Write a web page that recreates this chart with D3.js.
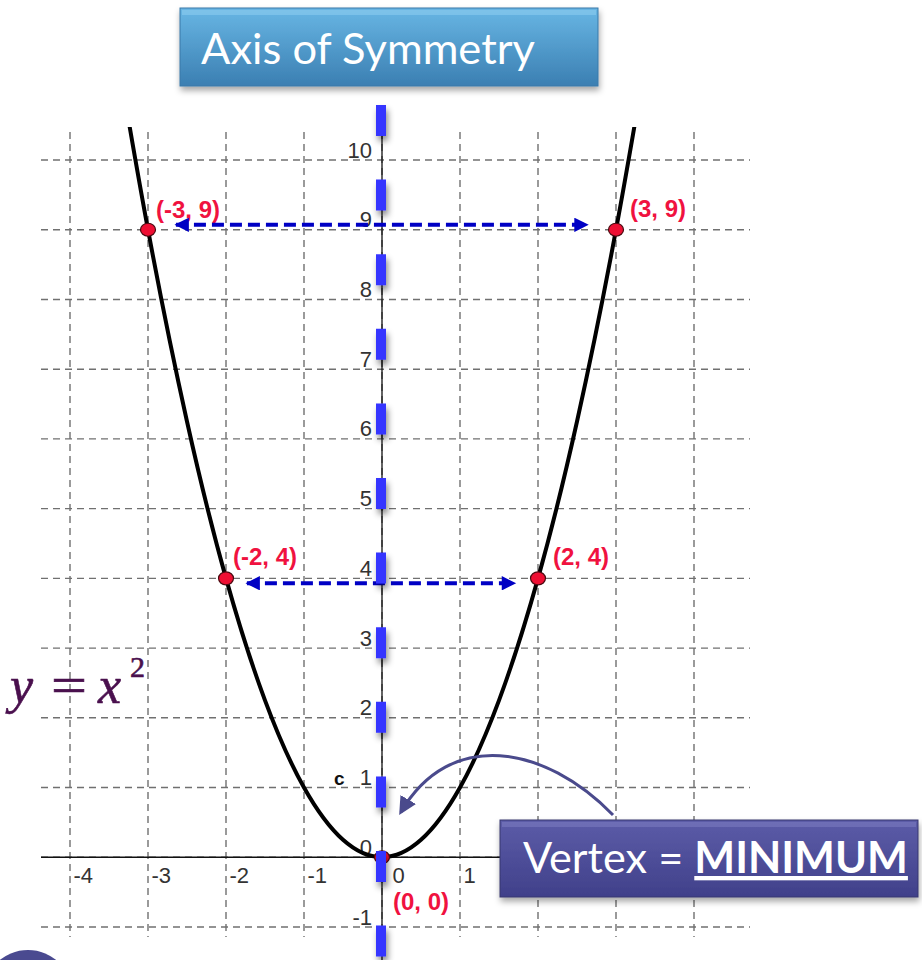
<!DOCTYPE html>
<html>
<head>
<meta charset="utf-8">
<script src="https://cdn.jsdelivr.net/npm/d3@7"></script>
<style>
  body { margin: 0; background: #fff; }
  svg { display: block; }
</style>
</head>
<body>
<svg id="chart" width="922" height="960"></svg>
<script>
(function () {
  "use strict";

  // data
  const xTicks = [-4, -3, -2, -1, 0, 1, 2, 3, 4];
  const xLabelTicks = [-4, -3, -2, -1, 0, 1]; // 2..4 sit behind the vertex box
  const yTicks = [-1, 0, 1, 2, 3, 4, 5, 6, 7, 8, 9, 10];
  const curveX = [-3.4, -3, -2.5, -2, -1.5, -1, -0.5, 0, 0.5, 1, 1.5, 2, 2.5, 3, 3.4];
  const curveY = [11.56, 9, 6.25, 4, 2.25, 1, 0.25, 0, 0.25, 1, 2.25, 4, 6.25, 9, 11.56];
  const pointX = [-3, 3, -2, 2, 0];
  const pointY = [9, 9, 4, 4, 0];
  const pointLabels = ["(-3, 9)", "(3, 9)", "(-2, 4)", "(2, 4)", "(0, 0)"];
  // symmetric arrows: [x start, x end, y]
  const arrowX0 = [-2.77, -1.86];
  const arrowX1 = [2.76, 1.83];
  const arrowY  = [9.07, 3.93];

  const FONT = "Liberation Sans, Arial, sans-serif";
  const svg = d3.select("#chart");
  const defs = svg.append("defs");

  const x = d3.scaleLinear().domain([-4, 4]).range([70, 694]);
  const y = d3.scaleLinear().domain([-1, 10]).range([927, 160]);

  // gradients + shadows
  const g1 = defs.append("linearGradient").attr("id", "titleGrad").attr("x1", 0).attr("y1", 0).attr("x2", 0).attr("y2", 1);
  g1.append("stop").attr("offset", "0%").attr("stop-color", "#68b6e4");
  g1.append("stop").attr("offset", "100%").attr("stop-color", "#3b7fb2");
  const g2 = defs.append("linearGradient").attr("id", "vertGrad").attr("x1", 0).attr("y1", 0).attr("x2", 0).attr("y2", 1);
  g2.append("stop").attr("offset", "0%").attr("stop-color", "#5c5ca8");
  g2.append("stop").attr("offset", "100%").attr("stop-color", "#40408a");

  const sh = defs.append("filter").attr("id", "shadow").attr("x", "-10%").attr("y", "-20%").attr("width", "130%").attr("height", "160%");
  sh.append("feDropShadow").attr("dx", 1).attr("dy", 4).attr("stdDeviation", 3)
    .attr("flood-color", "#000").attr("flood-opacity", 0.35);
  // vertical line has a zero-width bbox, so the region is in user space
  const sh2 = defs.append("filter").attr("id", "dashShadow").attr("filterUnits", "userSpaceOnUse")
    .attr("x", 350).attr("y", 80).attr("width", 70).attr("height", 900);
  sh2.append("feDropShadow").attr("dx", 2).attr("dy", 5).attr("stdDeviation", 3)
    .attr("flood-color", "#000").attr("flood-opacity", 0.45);

  defs.append("clipPath").attr("id", "plotClip")
    .append("rect").attr("x", 0).attr("y", 127).attr("width", 922).attr("height", 833);

  const arrowHead = defs.append("marker").attr("id", "arr")
    .attr("viewBox", "0 0 10 10").attr("refX", 9).attr("refY", 5)
    .attr("markerWidth", 4.2).attr("markerHeight", 3.6).attr("orient", "auto-start-reverse")
    .attr("markerUnits", "strokeWidth");
  arrowHead.append("path").attr("d", "M0,0L10,5L0,10z").attr("fill", "#0000c4");

  const arrowHead2 = defs.append("marker").attr("id", "arr2")
    .attr("viewBox", "0 0 10 10").attr("refX", 8).attr("refY", 5)
    .attr("markerWidth", 6).attr("markerHeight", 6).attr("orient", "auto")
    .attr("markerUnits", "strokeWidth");
  arrowHead2.append("path").attr("d", "M0,0L10,5L0,10z").attr("fill", "#4a4a8c");

  // grid
  const gridX0 = 41, gridX1 = 750, gridY0 = 132, gridY1 = 937;
  svg.append("g").selectAll("line").data(yTicks).join("line")
    .attr("x1", gridX0).attr("x2", gridX1)
    .attr("y1", d => y(d)).attr("y2", d => y(d))
    .attr("stroke", "#707070").attr("stroke-width", 1.4).attr("stroke-dasharray", "7,5");
  svg.append("g").selectAll("line").data(xTicks).join("line")
    .attr("x1", d => x(d)).attr("x2", d => x(d))
    .attr("y1", gridY0).attr("y2", gridY1)
    .attr("stroke", "#707070").attr("stroke-width", 1.4).attr("stroke-dasharray", "7,5");

  // axis lines
  svg.append("line").attr("x1", gridX0).attr("x2", gridX1).attr("y1", y(0)).attr("y2", y(0))
    .attr("stroke", "#111").attr("stroke-width", 1.3);
  svg.append("line").attr("x1", x(0)).attr("x2", x(0)).attr("y1", 105).attr("y2", 960)
    .attr("stroke", "#111").attr("stroke-width", 1.3);

  // tick labels
  const yAxis = svg.append("g").attr("transform", `translate(${x(0) - 10},0)`)
    .call(d3.axisLeft(y).tickValues(yTicks).tickSize(0).tickPadding(0).tickFormat(d => String(d)));
  yAxis.select(".domain").remove();
  yAxis.attr("font-family", FONT).attr("font-size", 22);
  yAxis.selectAll("text").attr("dy", -3).attr("x", 0).attr("fill", "#333");

  const xAxis = svg.append("g").attr("transform", `translate(0,${y(0)})`)
    .call(d3.axisBottom(x).tickValues(xLabelTicks).tickSize(0).tickFormat(d => String(d)));
  xAxis.select(".domain").remove();
  xAxis.attr("font-family", FONT).attr("font-size", 22);
  xAxis.selectAll("text").attr("text-anchor", "start").attr("fill", "#333")
    .attr("x", d => d === 0 ? 10 : 3).attr("y", 26).attr("dy", 0);

  svg.append("text").attr("x", 334).attr("y", 785)
    .attr("font-family", FONT).attr("font-size", 19)
    .attr("font-weight", "bold").attr("fill", "#111").text("c");

  // parabola
  const line = d3.line().x(d => x(d[0])).y(d => y(d[1])).curve(d3.curveNatural);
  svg.append("path").datum(d3.zip(curveX, curveY))
    .attr("clip-path", "url(#plotClip)")
    .attr("d", line).attr("fill", "none").attr("stroke", "#000").attr("stroke-width", 4);

  // points
  const pts = d3.zip(pointX, pointY, pointLabels);
  svg.append("g").selectAll("ellipse").data(pts).join("ellipse")
    .attr("cx", d => x(d[0])).attr("cy", d => y(d[1]))
    .attr("rx", 7.5).attr("ry", 6.5)
    .attr("fill", "#ee0f33").attr("stroke", "#4a0a10").attr("stroke-width", 1.2);

  const labelDx = [8, 14, 7, 15, 11];
  const labelDy = [-12, -13, -13, -13, 53];
  svg.append("g").attr("font-family", FONT).attr("font-size", 24).attr("font-weight", "bold").attr("fill", "#f0123f")
    .selectAll("text").data(pts).join("text")
    .attr("x", (d, i) => x(d[0]) + labelDx[i])
    .attr("y", (d, i) => y(d[1]) + labelDy[i])
    .text(d => d[2]);

  // symmetric arrows
  svg.append("g").selectAll("line").data(d3.zip(arrowX0, arrowX1, arrowY)).join("line")
    .attr("x1", d => x(d[0]) + 10).attr("x2", d => x(d[1]) - 10)
    .attr("y1", d => y(d[2])).attr("y2", d => y(d[2]))
    .attr("stroke", "#0000c4").attr("stroke-width", 4).attr("stroke-dasharray", "12,6")
    .attr("marker-start", "url(#arr)").attr("marker-end", "url(#arr)");

  // axis of symmetry
  svg.append("line")
    .attr("x1", x(0) - 1).attr("x2", x(0) - 1)
    .attr("y1", 105).attr("y2", 965)
    .attr("stroke", "#3535ff").attr("stroke-width", 10)
    .attr("stroke-dasharray", "31,43.6")
    .attr("filter", "url(#dashShadow)");

  // y = x^2 label
  const eq = svg.append("g").attr("fill", "#4a104e").attr("stroke", "#4a104e").attr("stroke-width", 0.6)
    .attr("font-family", "Liberation Serif, Times New Roman, serif");
  eq.append("text").attr("x", 10).attr("y", 703).attr("font-size", 52).attr("font-style", "italic").text("y");
  eq.append("text").attr("x", 51).attr("y", 703).attr("font-size", 52)
    .attr("textLength", 36).attr("lengthAdjust", "spacingAndGlyphs").text("=");
  eq.append("text").attr("x", 98).attr("y", 703).attr("font-size", 52).attr("font-style", "italic").text("x");
  eq.append("text").attr("x", 130).attr("y", 677).attr("font-size", 30).text("2");

  // title box
  function fitText(sel, width) {
    const len = sel.node().getComputedTextLength();
    const fs = parseFloat(sel.attr("font-size"));
    sel.attr("font-size", fs * width / len);
  }
  svg.append("rect").attr("x", 180).attr("y", 8).attr("width", 418).attr("height", 78)
    .attr("fill", "url(#titleGrad)").attr("stroke", "#3a78a8").attr("stroke-width", 1)
    .attr("filter", "url(#shadow)");
  svg.append("rect").attr("x", 182).attr("y", 10).attr("width", 414).attr("height", 5)
    .attr("fill", "#8ccbef").attr("opacity", 0.6);
  const t1 = svg.append("text").attr("x", 201).attr("y", 64)
    .attr("font-family", "Lato, 'Open Sans', sans-serif").attr("font-size", 40)
    .attr("fill", "#fff").text("Axis of Symmetry");
  fitText(t1, 334);

  // curved pointer to vertex
  svg.append("path").attr("d", "M613,815 C545,745 450,728 401,812")
    .attr("fill", "none").attr("stroke", "#4a4a8c").attr("stroke-width", 3)
    .attr("marker-end", "url(#arr2)");

  // vertex box
  svg.append("rect").attr("x", 500).attr("y", 820).attr("width", 418).attr("height", 77)
    .attr("fill", "url(#vertGrad)").attr("stroke", "#36366e").attr("stroke-width", 1)
    .attr("filter", "url(#shadow)");
  svg.append("rect").attr("x", 502).attr("y", 822).attr("width", 414).attr("height", 5)
    .attr("fill", "#7a7ac0").attr("opacity", 0.6);
  const t2 = svg.append("text").attr("x", 523).attr("y", 873)
    .attr("font-family", "Lato, 'Open Sans', sans-serif").attr("font-size", 40)
    .attr("fill", "#fff");
  t2.append("tspan").text("Vertex = ");
  t2.append("tspan").attr("font-weight", "bold").attr("text-decoration", "underline").text("MINIMUM");
  fitText(t2, 385);

  // corner circle
  svg.append("circle").attr("cx", 28).attr("cy", 995).attr("r", 45).attr("fill", "#4a4a90");
})();
</script>
</body>
</html>
